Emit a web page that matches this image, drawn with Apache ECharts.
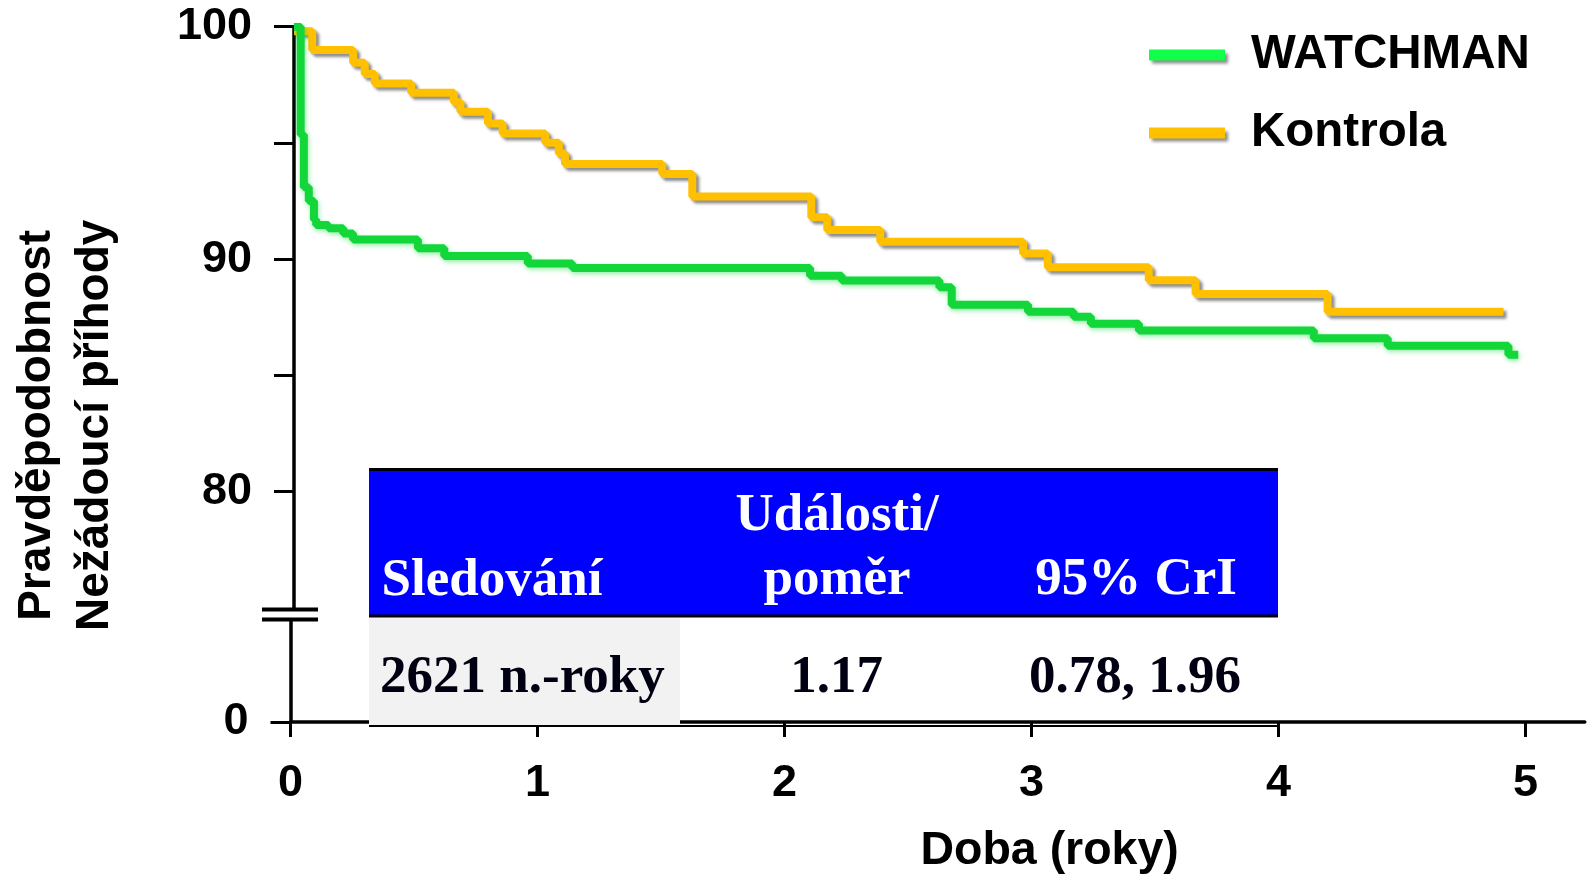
<!DOCTYPE html>
<html><head><meta charset="utf-8">
<script src="https://cdn.jsdelivr.net/npm/echarts@6/dist/echarts.min.js"></script>
<style>html,body{margin:0;padding:0;background:#fff}#c{width:1588px;height:876px}</style>
</head><body><div id="c"></div>
<script>
// ---- data ----
const watchmanTime = [0, 0.027, 0.04, 0.06, 0.081, 0.09, 0.14, 0.2, 0.24, 0.503, 0.61, 0.949, 1.13, 2.095, 2.224, 2.62, 2.67, 2.98, 3.165, 3.235, 3.43, 4.14, 4.44, 4.93, 4.97];
const watchmanSurv = [100, 95.35, 93.1, 92.5, 91.7, 91.47, 91.33, 91.11, 90.85, 90.47, 90.14, 89.82, 89.62, 89.29, 89.08, 88.79, 88.04, 87.74, 87.53, 87.22, 86.93, 86.6, 86.28, 85.89, 85.89];
const kontrolaTime = [0, 0.074, 0.24, 0.287, 0.328, 0.476, 0.649, 0.676, 0.787, 0.847, 1.02, 1.075, 1.1, 1.495, 1.617, 2.10, 2.165, 2.38, 2.96, 3.06, 3.47, 3.66, 4.196, 4.91];
const kontrolaSurv = [99.8, 99.0, 98.45, 97.97, 97.56, 97.16, 96.75, 96.34, 95.84, 95.41, 95.01, 94.55, 94.09, 93.66, 92.7, 91.8, 91.26, 90.75, 90.25, 89.65, 89.1, 88.5, 87.74, 87.74];
const seriesNames = ['WATCHMAN', 'Kontrola'];
const xTicks = [0, 1, 2, 3, 4, 5];
const yTicksTop = [80, 85, 90, 95, 100];
const yLabelsTop = [80, 90, 100];
const yTicksBottom = [0];
const tableHeader = ['Sledování', 'Události/\npoměr', '95% CrI'];
const tableRow = ['2621 n.-roky', '1.17', '0.78, 1.96'];

// ---- layout ----
const SANS = '"Liberation Sans", Arial, sans-serif';
const SERIF = '"Liberation Serif", "Times New Roman", serif';
const GL = 290.5, PXY = 247, XMAX = 5.24;
const GW = PXY * XMAX;

const zip = (a, b) => a.map((v, i) => [v, b[i]]);
const chart = echarts.init(document.getElementById('c'), null, {renderer: 'canvas'});

const axisLineStyle = {color: '#000', width: 3.5};
const labelStyle = {color: '#000', fontFamily: SANS, fontWeight: 'bold', fontSize: 45};

const headerFont = 'bold 53px ' + SERIF;
const rowFont = 'bold 53px ' + SERIF;
const DY = 4;

chart.setOption({
  animation: false,
  backgroundColor: '#fff',
  grid: [
    {left: GL, top: 26.7, width: GW, height: 581.3},
    {left: GL, top: 619.5, width: GW, height: 105.5}
  ],
  legend: {
    orient: 'vertical', left: 1144, top: 26, itemWidth: 76, itemHeight: 11, itemGap: 30,
    icon: 'rect', selectedMode: false,
    textStyle: {color: '#000', fontFamily: SANS, fontWeight: 'bold', fontSize: 47.5, padding: [0, 0, 0, 21]},
    itemStyle: {shadowColor: 'rgba(0,0,0,0.45)', shadowBlur: 3, shadowOffsetX: 3, shadowOffsetY: 3},
    data: [
      {name: seriesNames[0], itemStyle: {color: '#10FF48'}},
      {name: seriesNames[1], itemStyle: {color: '#FFC000'}}
    ]
  },
  xAxis: [
    {gridIndex: 0, type: 'value', min: 0, max: XMAX, interval: 1, show: false},
    {gridIndex: 1, type: 'value', min: 0, max: XMAX, interval: 1, position: 'bottom',
      axisLine: {show: true, lineStyle: axisLineStyle},
      axisTick: {show: true, length: 15, lineStyle: {color: '#000', width: 3}, customValues: xTicks},
      axisLabel: Object.assign({margin: 39, customValues: xTicks}, labelStyle),
      splitLine: {show: false},
      name: 'Doba (roky)', nameLocation: 'middle', nameGap: 106,
      nameTextStyle: {color: '#000', fontFamily: SANS, fontWeight: 'bold', fontSize: 46.5, padding: [0, 0, 0, 224]}
    }
  ],
  yAxis: [
    {gridIndex: 0, type: 'value', min: 75, max: 100, interval: 5,
      axisLine: {show: true, lineStyle: axisLineStyle},
      axisTick: {show: true, length: 20, lineStyle: {color: '#000', width: 3}, customValues: yTicksTop},
      axisLabel: Object.assign({margin: 42, customValues: yLabelsTop,
        formatter: v => (yLabelsTop.indexOf(v) >= 0 ? String(v) : '')}, labelStyle),
      splitLine: {show: false},
      name: 'Pravděpodobnost\nNežádoucí příhody', nameLocation: 'middle', nameGap: 170, nameRotate: 90,
      nameTextStyle: {color: '#000', fontFamily: SANS, fontWeight: 'bold', fontSize: 46, lineHeight: 58, padding: [0, 216, 0, 0]}
    },
    {gridIndex: 1, type: 'value', min: 0, max: 5, interval: 5,
      axisLine: {show: true, lineStyle: axisLineStyle},
      axisTick: {show: true, length: 20, lineStyle: {color: '#000', width: 3}, customValues: yTicksBottom},
      axisLabel: Object.assign({margin: 42, customValues: yTicksBottom,
        formatter: v => (yTicksBottom.indexOf(v) >= 0 ? String(v) : '')}, labelStyle),
      splitLine: {show: false}
    }
  ],
  series: [
    {type: 'line', name: seriesNames[1], step: 'end', xAxisIndex: 0, yAxisIndex: 0,
      data: zip(kontrolaTime, kontrolaSurv), symbol: 'none', z: 2,
      itemStyle: {color: '#FFC000'},
      lineStyle: {color: '#FFC000', width: 8, shadowColor: 'rgba(0,0,0,0.45)', shadowBlur: 3, shadowOffsetX: 3, shadowOffsetY: 3}
    },
    {type: 'line', name: seriesNames[0], step: 'end', xAxisIndex: 0, yAxisIndex: 0,
      data: zip(watchmanTime, watchmanSurv), symbol: 'none', z: 3,
      itemStyle: {color: '#12D63A'},
      lineStyle: {color: '#12D63A', width: 8, shadowColor: 'rgba(18,214,58,0.45)', shadowBlur: 5, shadowOffsetX: 1, shadowOffsetY: 2}
    }
  ],
  graphic: [
    // axis break marks
    {type: 'line', z: 10, shape: {x1: 262, y1: 609.5, x2: 318, y2: 609.5}, style: {stroke: '#000', lineWidth: 4}},
    {type: 'line', z: 10, shape: {x1: 262, y1: 619.5, x2: 318, y2: 619.5}, style: {stroke: '#000', lineWidth: 4}},
    // table
    {type: 'rect', z: 5, shape: {x: 369, y: 469, width: 909, height: 147}, style: {fill: '#0000FF'}},
    {type: 'line', z: 6, shape: {x1: 369, y1: 469.5, x2: 1278, y2: 469.5}, style: {stroke: '#000', lineWidth: 3}},
    {type: 'line', z: 6, shape: {x1: 369, y1: 616, x2: 1278, y2: 616}, style: {stroke: '#000', lineWidth: 3}},
    {type: 'rect', z: 5, shape: {x: 369, y: 617.5, width: 311, height: 108}, style: {fill: '#F2F2F2'}},
    {type: 'line', z: 6, shape: {x1: 369, y1: 726, x2: 1278, y2: 726}, style: {stroke: '#000', lineWidth: 2}},
    {type: 'text', z: 7, style: {x: 381.5, y: 577 + DY, text: tableHeader[0], font: headerFont, fill: '#fff', textAlign: 'left', textVerticalAlign: 'middle'}},
    {type: 'text', z: 7, style: {x: 837, y: 512 + DY, text: tableHeader[1].split('\n')[0], font: headerFont, fill: '#fff', textAlign: 'center', textVerticalAlign: 'middle'}},
    {type: 'text', z: 7, style: {x: 837, y: 576 + DY, text: tableHeader[1].split('\n')[1], font: headerFont, fill: '#fff', textAlign: 'center', textVerticalAlign: 'middle'}},
    {type: 'text', z: 7, style: {x: 1136, y: 576 + DY, text: tableHeader[2], font: headerFont, fill: '#fff', textAlign: 'center', textVerticalAlign: 'middle'}},
    {type: 'text', z: 7, style: {x: 380, y: 674 + DY, text: tableRow[0], font: rowFont, fill: '#000012', textAlign: 'left', textVerticalAlign: 'middle'}},
    {type: 'text', z: 7, style: {x: 836.5, y: 674 + DY, text: tableRow[1], font: rowFont, fill: '#000012', textAlign: 'center', textVerticalAlign: 'middle'}},
    {type: 'text', z: 7, style: {x: 1135, y: 674 + DY, text: tableRow[2], font: rowFont, fill: '#000012', textAlign: 'center', textVerticalAlign: 'middle'}}
  ]
});
</script>
</body></html>
